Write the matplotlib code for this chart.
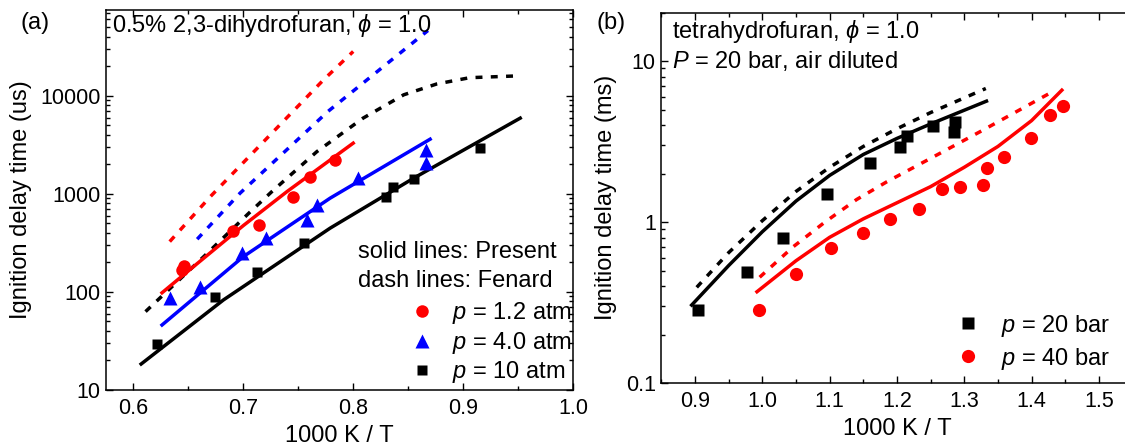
import matplotlib
matplotlib.use('Agg')
import matplotlib.pyplot as plt
from matplotlib.ticker import MultipleLocator, LogLocator, FuncFormatter, NullFormatter

plt.rcParams['font.family'] = ['Liberation Sans', 'DejaVu Sans']
plt.rcParams['mathtext.fontset'] = 'custom'
plt.rcParams['mathtext.rm'] = 'Liberation Sans'
plt.rcParams['mathtext.it'] = 'Liberation Sans:italic'

FS = 17      # annotation / legend / axis label size
TFS = 15.5   # tick label size

# ---- (a) 0.5% 2,3-dihydrofuran, ignition delay in us ----
# experiments
a_x_p12 = [0.644, 0.646, 0.691, 0.714, 0.745, 0.761, 0.783]
a_y_p12 = [168, 185, 423, 483, 925, 1500, 2190]
a_x_p40 = [0.633, 0.661, 0.699, 0.721, 0.758, 0.767, 0.804, 0.866, 0.866]
a_y_p40 = [86, 112, 248, 353, 535, 772, 1445, 2056, 2810]
a_x_p10 = [0.621, 0.674, 0.712, 0.755, 0.830, 0.836, 0.855, 0.915]
a_y_p10 = [29.4, 88, 161, 314, 938, 1170, 1422, 2970]

# present model (solid)
a_mx_p12 = [0.626, 0.65, 0.70, 0.74, 0.80]
a_my_p12 = [98, 164, 475, 1060, 3290]
a_mx_p40 = [0.626, 0.70, 0.779, 0.870]
a_my_p40 = [46, 229, 904, 3610]
a_mx_p10 = [0.607, 0.682, 0.779, 0.855, 0.952]
a_my_p10 = [18.4, 83, 447, 1445, 5920]

# Fenard model (dashed)
a_fx_p12 = [0.633, 0.670, 0.773, 0.80]
a_fy_p12 = [326, 938, 14550, 28300]
a_fx_p40 = [0.658, 0.697, 0.777, 0.868]
a_fy_p40 = [345, 1016, 6920, 46300]
a_fx_p10 = [0.611, 0.664, 0.705, 0.726, 0.767, 0.809, 0.846, 0.876, 0.906, 0.952]
a_fy_p10 = [63, 229, 635, 1055, 2700, 5920, 10240, 13200, 15300, 16000]

# ---- (b) tetrahydrofuran, ignition delay in ms ----
b_x_20 = [0.905, 0.977, 1.030, 1.096, 1.160, 1.205, 1.215, 1.254, 1.284, 1.286]
b_y_20 = [0.284, 0.491, 0.793, 1.49, 2.32, 2.94, 3.42, 3.94, 3.64, 4.2]
b_x_40 = [0.995, 1.050, 1.102, 1.150, 1.190, 1.233, 1.267, 1.294, 1.328, 1.334,
          1.359, 1.399, 1.428, 1.446]
b_y_40 = [0.284, 0.475, 0.692, 0.858, 1.04, 1.2, 1.6, 1.64, 1.70, 2.17,
          2.52, 3.34, 4.62, 5.25]

b_mx_20 = [0.895, 0.95, 1.0, 1.05, 1.1, 1.15, 1.2, 1.25, 1.333]
b_my_20 = [0.305, 0.537, 0.871, 1.35, 1.95, 2.63, 3.31, 4.07, 5.64]
b_fx_20 = [0.9025, 0.95, 1.0, 1.05, 1.1, 1.15, 1.2, 1.25, 1.332]
b_fy_20 = [0.393, 0.646, 1.02, 1.55, 2.19, 2.95, 3.80, 4.79, 6.76]
b_mx_40 = [0.992, 1.05, 1.1, 1.15, 1.2, 1.25, 1.3, 1.35, 1.4, 1.445]
b_my_40 = [0.369, 0.575, 0.804, 1.047, 1.318, 1.66, 2.19, 2.95, 4.27, 6.6]
b_fx_40 = [0.996, 1.046, 1.093, 1.14, 1.185, 1.254, 1.328, 1.428]
b_fy_40 = [0.454, 0.703, 1.0, 1.38, 1.78, 2.54, 3.73, 6.35]

LW = 2.5
DASH = (0, (2.0, 2.4))


def style_axis(ax):
    for s in ax.spines.values():
        s.set_linewidth(1.1)
    ax.tick_params(which='both', direction='in', top=True, right=True, width=1.0)
    ax.tick_params(which='major', length=5, labelsize=TFS)
    ax.tick_params(which='minor', length=3)
    ax.tick_params(axis='x', which='major', pad=6)
    ax.tick_params(axis='y', which='major', pad=4)
    ax.xaxis.set_major_locator(MultipleLocator(0.1))
    ax.xaxis.set_minor_locator(MultipleLocator(0.05))
    ax.yaxis.set_major_locator(LogLocator(base=10))
    ax.yaxis.set_minor_locator(LogLocator(base=10, subs=range(2, 10)))
    ax.yaxis.set_minor_formatter(NullFormatter())


fig = plt.figure(figsize=(11.25, 4.48), dpi=100)
ax1 = fig.add_axes([0.0942, 0.1295, 0.4151, 0.8482])
ax2 = fig.add_axes([0.5879, 0.1451, 0.4188, 0.8266])

# panel (a)
ax1.plot(a_fx_p12, a_fy_p12, color='red', lw=LW, ls=DASH)
ax1.plot(a_fx_p40, a_fy_p40, color='blue', lw=LW, ls=DASH)
ax1.plot(a_fx_p10, a_fy_p10, color='black', lw=LW, ls=DASH)
ax1.plot(a_mx_p12, a_my_p12, color='red', lw=LW)
ax1.plot(a_mx_p40, a_my_p40, color='blue', lw=LW)
ax1.plot(a_mx_p10, a_my_p10, color='black', lw=LW)
h1, = ax1.plot(a_x_p12, a_y_p12, 'o', color='red', ms=9, mec='none')
h2, = ax1.plot(a_x_p40, a_y_p40, '^', color='blue', ms=9.5, mec='none')
h3, = ax1.plot(a_x_p10, a_y_p10, 's', color='black', ms=7.5, mec='none')

ax1.set_yscale('log')
ax1.set_xlim(0.575, 1.0)
ax1.set_ylim(10, 75000)
style_axis(ax1)
ax1.yaxis.set_major_formatter(FuncFormatter(lambda v, p: f'{v:.0f}'))
ax1.set_xlabel('1000 K / T', fontsize=FS, labelpad=4)
ax1.set_ylabel('Ignition delay time (us)', fontsize=FS, labelpad=6)
ax1.text(0.013, 0.942, r'0.5% 2,3-dihydrofuran, $\phi$ = 1.0', transform=ax1.transAxes,
         ha='left', va='baseline', fontsize=FS)
ax1.text(0.54, 0.347, 'solid lines: Present', transform=ax1.transAxes,
         ha='left', va='baseline', fontsize=FS)
ax1.text(0.54, 0.272, 'dash lines: Fenard', transform=ax1.transAxes,
         ha='left', va='baseline', fontsize=FS)
ax1.legend([h1, h2, h3], ['$p$ = 1.2 atm', '$p$ = 4.0 atm', '$p$ = 10 atm'],
           loc='upper left', bbox_to_anchor=(0.651, 0.236), frameon=False, fontsize=FS,
           handlelength=1.0, handletextpad=0.8, labelspacing=0.15,
           borderpad=0, borderaxespad=0)
fig.text(0.031, 0.949, '(a)', ha='center', va='center', fontsize=FS)

# panel (b)
ax2.plot(b_fx_20, b_fy_20, color='black', lw=LW, ls=DASH)
ax2.plot(b_fx_40, b_fy_40, color='red', lw=LW, ls=DASH)
ax2.plot(b_mx_20, b_my_20, color='black', lw=LW)
ax2.plot(b_mx_40, b_my_40, color='red', lw=LW)
g1, = ax2.plot(b_x_20, b_y_20, 's', color='black', ms=8.5, mec='none')
g2, = ax2.plot(b_x_40, b_y_40, 'o', color='red', ms=9.5, mec='none')

ax2.set_yscale('log')
ax2.set_xlim(0.85, 1.55)
ax2.set_ylim(0.1, 20)
style_axis(ax2)
ax2.yaxis.set_major_formatter(FuncFormatter(lambda v, p: f'{v:g}'))
ax2.set_xlabel('1000 K / T', fontsize=FS, labelpad=4)
ax2.set_ylabel('Ignition delay time (ms)', fontsize=FS, labelpad=6)
ax2.text(0.022, 0.931, r'tetrahydrofuran, $\phi$ = 1.0', transform=ax2.transAxes,
         ha='left', va='baseline', fontsize=FS)
ax2.text(0.022, 0.85, '$P$ = 20 bar, air diluted', transform=ax2.transAxes,
         ha='left', va='baseline', fontsize=FS)
ax2.legend([g1, g2], ['$p$ = 20 bar', '$p$ = 40 bar'],
           loc='upper left', bbox_to_anchor=(0.625, 0.19), frameon=False, fontsize=FS,
           handlelength=1.0, handletextpad=0.93, labelspacing=0.3,
           borderpad=0, borderaxespad=0)
fig.text(0.543, 0.949, '(b)', ha='center', va='center', fontsize=FS)

fig.savefig('out.png', dpi=100)
